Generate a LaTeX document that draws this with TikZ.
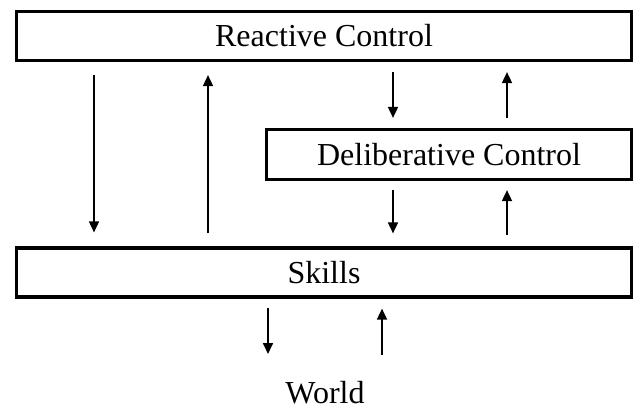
\documentclass[tikz,border=0pt]{standalone}
\usepackage{fontspec}
\setmainfont{Liberation Serif}
\usetikzlibrary{arrows.meta}
\begin{document}
\begin{tikzpicture}[x=1pt,y=-1pt,
  box/.style={draw,line width=3.2pt,inner sep=0pt,font=\fontsize{32}{38}\selectfont},
  arr/.style={line width=1.7pt,-{Triangle[length=11pt,width=10pt]}},
  lbl/.style={inner sep=0pt,font=\fontsize{32}{38}\selectfont}]
\useasboundingbox (0,0) rectangle (639,410);
\node[box,minimum width=615pt,minimum height=49pt] (rc) at (324,36) {Reactive Control};
\node[box,minimum width=365pt,minimum height=50pt] (dc) at (449,154.5) {Deliberative Control};
\node[box,minimum width=615pt,minimum height=49pt] (sk) at (324,272.5) {Skills};
\node[lbl,anchor=base] (w) at (325,403) {World};
% x positions
\coordinate (xa) at (94,0);
\coordinate (xb) at (208,0);
\coordinate (xc) at (393,0);
\coordinate (xd) at (507,0);
\coordinate (xe) at (268,0);
\coordinate (xf) at (382,0);
% reactive <-> skills
\draw[arr,shorten <=13pt,shorten >=14pt] (rc.south -| xa) -- (sk.north -| xa);
\draw[arr,shorten <=13pt,shorten >=13pt] (sk.north -| xb) -- (rc.south -| xb);
% reactive <-> deliberative
\draw[arr,shorten <=10pt,shorten >=10pt] (rc.south -| xc) -- (dc.north -| xc);
\draw[arr,shorten <=10pt,shorten >=10pt] (dc.north -| xd) -- (rc.south -| xd);
% deliberative <-> skills
\draw[arr,shorten <=9pt,shorten >=13pt] (dc.south -| xc) -- (sk.north -| xc);
\draw[arr,shorten <=11pt,shorten >=9pt] (sk.north -| xd) -- (dc.south -| xd);
% skills <-> world
\draw[arr,shorten <=9pt,shorten >=0pt] (sk.south -| xe) -- (xe |- 354,354);
\coordinate (wu) at (382,355);
\draw[arr,shorten >=10pt] (wu) -- (sk.south -| xf);
\end{tikzpicture}
\end{document}
